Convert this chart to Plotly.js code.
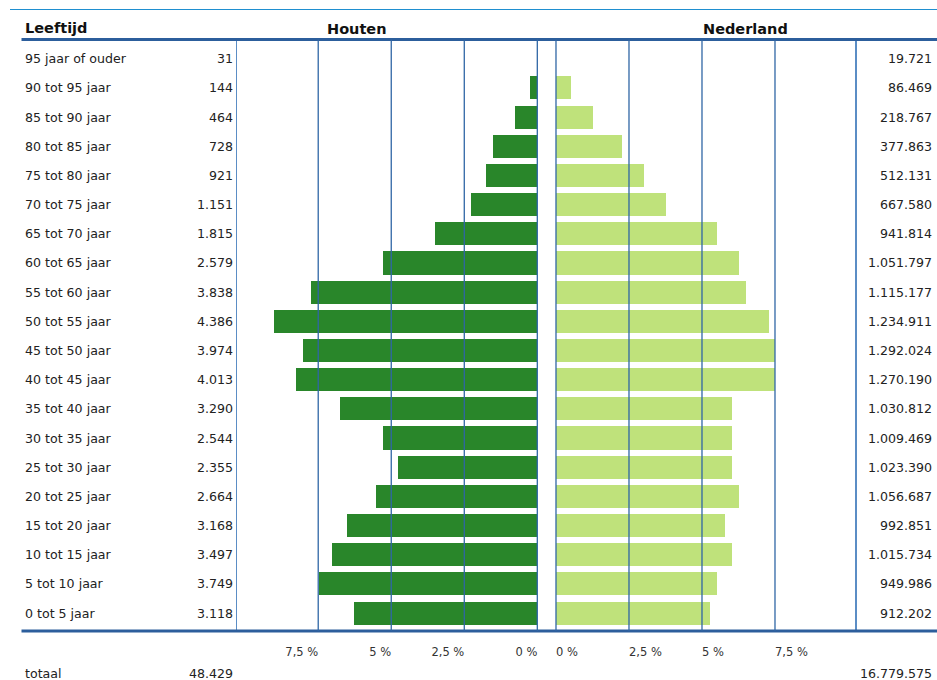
<!DOCTYPE html>
<html>
<head>
<meta charset="utf-8">
<script src="https://cdn.plot.ly/plotly-3.0.1.min.js"></script>
<style>
html,body{margin:0;padding:0;background:#fff;}
#chart{width:937px;height:680px;}
</style>
</head>
<body>
<div id="chart"></div>
<script>
// ---- data (top row first) ----
var ages = ['95 jaar of ouder','90 tot 95 jaar','85 tot 90 jaar','80 tot 85 jaar','75 tot 80 jaar',
  '70 tot 75 jaar','65 tot 70 jaar','60 tot 65 jaar','55 tot 60 jaar','50 tot 55 jaar',
  '45 tot 50 jaar','40 tot 45 jaar','35 tot 40 jaar','30 tot 35 jaar','25 tot 30 jaar',
  '20 tot 25 jaar','15 tot 20 jaar','10 tot 15 jaar','5 tot 10 jaar','0 tot 5 jaar'];
var houtenCount = [31,144,464,728,921,1151,1815,2579,3838,4386,3974,4013,3290,2544,2355,2664,3168,3497,3749,3118];
var nlCount = [19721,86469,218767,377863,512131,667580,941814,1051797,1115177,1234911,1292024,1270190,1030812,1009469,1023390,1056687,992851,1015734,949986,912202];
var houtenPct = [0,0.26,0.75,1.51,1.76,2.26,3.51,5.27,7.76,9.02,8.01,8.26,6.77,5.27,4.76,5.51,6.52,7.02,7.49,6.27];
var nlPct = [0,0.51,1.27,2.26,3.02,3.78,5.52,6.27,6.52,7.28,7.51,7.51,6.03,6.03,6.03,6.27,5.78,6.03,5.52,5.27];
var houtenTotal = 48429;
var nlTotal = 16779575;
var pctTicks = [0,2.5,5,7.5];
var pctTickText = ['0 %','2,5 %','5 %','7,5 %'];
var headLeft = 'Leeftijd', headHouten = 'Houten', headNL = 'Nederland', totalLabel = 'totaal';

// ---- helpers ----
var W = 937, H = 680;
function px(x){ return x / W; }
function py(y){ return 1 - y / H; }
function fmt(n){ return String(n).replace(/\B(?=(\d{3})+(?!\d))/g, '.'); }

var FONT = 'DejaVu Sans, Verdana, sans-serif';
var TXT = '#222222';
var GRID = '#2f66a5';
var BORDER = '#5b8dc5';
var DARK = '#29862a';
var LIGHT = '#bfe27b';
var TSIZE = 12.6;

var traces = [
  {type:'bar', orientation:'h', y:ages, x:houtenPct, xaxis:'x', yaxis:'y',
   marker:{color:DARK, line:{width:0}}, width:0.79, hoverinfo:'skip'},
  {type:'bar', orientation:'h', y:ages, x:nlPct, xaxis:'x2', yaxis:'y2',
   marker:{color:LIGHT, line:{width:0}}, width:0.79, hoverinfo:'skip'}
];

var yRange = [19.616, -0.661];
var yTop = 39.5, yBot = 631;
var yDom = [py(yBot), py(yTop)];

var annotations = [];
ages.forEach(function(a, i){
  annotations.push({xref:'paper', yref:'y', x:px(24), y:a, text:a, showarrow:false,
    xanchor:'left', yanchor:'middle', font:{family:FONT, size:TSIZE, color:TXT}, borderpad:0});
  annotations.push({xref:'paper', yref:'y', x:px(234), y:a, text:fmt(houtenCount[i]), showarrow:false,
    xanchor:'right', yanchor:'middle', font:{family:FONT, size:TSIZE, color:TXT}, borderpad:0});
  annotations.push({xref:'paper', yref:'y', x:px(933), y:a, text:fmt(nlCount[i]), showarrow:false,
    xanchor:'right', yanchor:'middle', font:{family:FONT, size:TSIZE, color:TXT}, borderpad:0});
});
annotations.push({xref:'paper', yref:'paper', x:px(24), y:py(28), text:'<b>'+headLeft+'</b>', showarrow:false,
  xanchor:'left', yanchor:'middle', font:{family:FONT, size:14.5, color:'#111'}, borderpad:0});
annotations.push({xref:'paper', yref:'paper', x:px(357), y:py(29), text:'<b>'+headHouten+'</b>', showarrow:false,
  xanchor:'center', yanchor:'middle', font:{family:FONT, size:14.5, color:'#111'}, borderpad:0});
annotations.push({xref:'paper', yref:'paper', x:px(745.5), y:py(29), text:'<b>'+headNL+'</b>', showarrow:false,
  xanchor:'center', yanchor:'middle', font:{family:FONT, size:14.5, color:'#111'}, borderpad:0});
annotations.push({xref:'paper', yref:'paper', x:px(24), y:py(673), text:totalLabel, showarrow:false,
  xanchor:'left', yanchor:'middle', font:{family:FONT, size:TSIZE, color:TXT}, borderpad:0});
annotations.push({xref:'paper', yref:'paper', x:px(234), y:py(673), text:fmt(houtenTotal), showarrow:false,
  xanchor:'right', yanchor:'middle', font:{family:FONT, size:TSIZE, color:TXT}, borderpad:0});
annotations.push({xref:'paper', yref:'paper', x:px(933), y:py(673), text:fmt(nlTotal), showarrow:false,
  xanchor:'right', yanchor:'middle', font:{family:FONT, size:TSIZE, color:TXT}, borderpad:0});

var shapes = [
  {type:'line', xref:'paper', yref:'paper', x0:px(10), x1:1, y0:py(9.5), y1:py(9.5), line:{color:'#1f8fd0', width:1.2}},
  {type:'line', xref:'paper', yref:'paper', x0:px(21.5), x1:1, y0:py(yTop), y1:py(yTop), line:{color:'#2c5e9c', width:3}, layer:'above'},
  {type:'line', xref:'paper', yref:'paper', x0:px(21.5), x1:1, y0:py(yBot), y1:py(yBot), line:{color:'#2c5e9c', width:3}, layer:'above'}
];
// grid lines drawn above the bars, positioned via the axes' own scales
pctTicks.forEach(function(t){
  shapes.push({type:'line', xref:'x', yref:'paper', x0:t, x1:t, y0:py(yBot), y1:py(yTop),
    line:{color:GRID, width:1.3}, layer:'above'});
  shapes.push({type:'line', xref:'x2', yref:'paper', x0:t, x1:t, y0:py(yBot), y1:py(yTop),
    line:{color:GRID, width:1.3}, layer:'above'});
});

var xCommon = {
  tickmode:'array', tickvals:pctTicks, ticktext:pctTickText,
  showgrid:false, zeroline:false, showline:false,
  ticks:'', ticklabelstandoff:12,
  tickfont:{family:FONT, size:11.5, color:'#333'}, fixedrange:true
};

var layout = {
  width:W, height:H, margin:{l:0, r:0, t:0, b:0},
  paper_bgcolor:'#fff', plot_bgcolor:'rgba(0,0,0,0)',
  separators:',.', showlegend:false, bargap:0,
  xaxis: Object.assign({}, xCommon, {domain:[px(237.3), px(538.3)], range:[10.27, -0.034], anchor:'y',
    ticklabelposition:'outside left'}),
  xaxis2: Object.assign({}, xCommon, {domain:[px(555), px(855)], range:[-0.034, 10.24], anchor:'y2',
    ticklabelposition:'outside right'}),
  yaxis: {domain:yDom, range:yRange, type:'category', categoryarray:ages, categoryorder:'array',
    showticklabels:false, showgrid:false, zeroline:false, ticks:'', anchor:'x',
    showline:true, linecolor:BORDER, linewidth:1.5, fixedrange:true},
  yaxis2: {domain:yDom, range:yRange, type:'category', categoryarray:ages, categoryorder:'array',
    showticklabels:false, showgrid:false, zeroline:false, ticks:'', anchor:'x2', side:'right',
    showline:true, linecolor:BORDER, linewidth:1.5, fixedrange:true},
  annotations:annotations, shapes:shapes
};

Plotly.newPlot('chart', traces, layout, {staticPlot:true, displayModeBar:false});
</script>
</body>
</html>
